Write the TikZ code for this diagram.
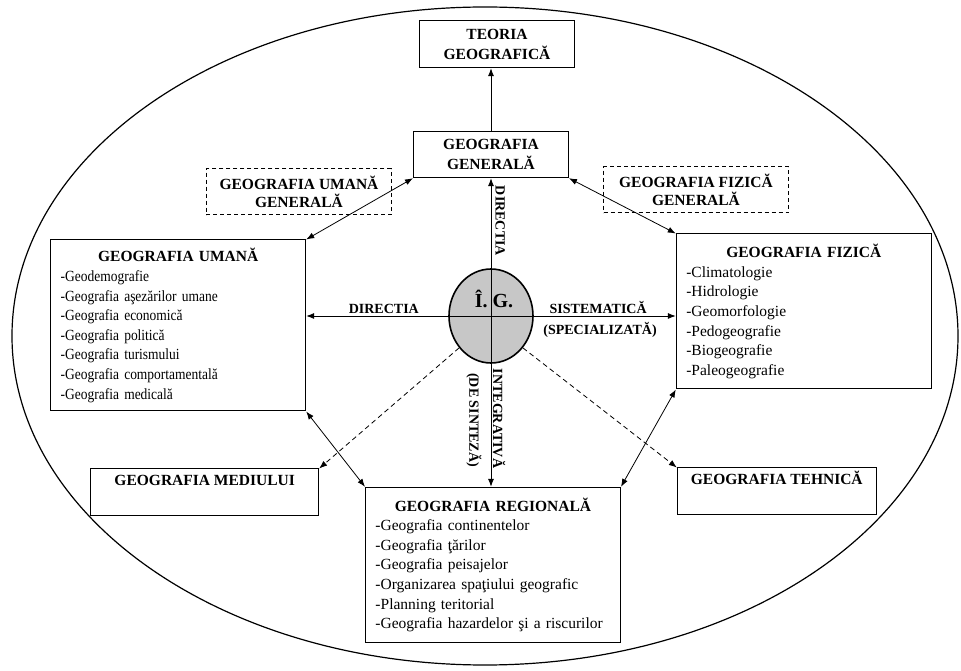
\documentclass[tikz,border=0pt]{standalone}
\usepackage{fontspec}
\setmainfont{Liberation Serif}
\newfontfamily\narrowfont[FakeStretch=0.87]{Liberation Serif}
\usetikzlibrary{positioning,arrows.meta,shapes.geometric}
\newcommand\boxtitle[1]{\makebox[\linewidth]{\rmfamily\bfseries #1}}

\begin{document}
\begin{tikzpicture}[
  font=\fontsize{15.5}{19.6}\selectfont, >={Latex[length=8pt,width=6pt]},
  box/.style={draw, line width=1pt, align=center, inner sep=3pt,
    font=\fontsize{15.5}{19.6}\selectfont\bfseries},
  gbox/.style={box, dash pattern=on 4pt off 3pt, font=\fontsize{15.5}{18}\selectfont\bfseries},
  tbox/.style={box, text height=14pt, text depth=27pt},
  lbox/.style={draw, line width=1pt, align=left, inner xsep=10pt, text width=235pt},
  ig/.style={ellipse, draw, line width=1.6pt, fill=black!22, minimum width=84pt,
    minimum height=94pt, inner sep=0pt},
  igtext/.style={font=\fontsize{20}{22}\selectfont\bfseries, inner sep=0pt},
  lbl/.style={font=\fontsize{14}{16}\selectfont\bfseries, inner sep=1.5pt},
  flow/.style={->, line width=0.8pt},
  both/.style={<->, line width=0.8pt},
  hint/.style={->, line width=0.8pt, dash pattern=on 5pt off 3.5pt},
  frame/.style={line width=1.2pt},
]
\useasboundingbox (-491pt,-355pt) rectangle (470pt,316pt);
% ---- centre ----
\node[ig] (ig) at (0,0) {};
\node[igtext] (igtxt) at ([xshift=3pt,yshift=17pt]ig.center) {Î.~G.};
% ---- general level (top) ----
\node[box, minimum width=155pt, minimum height=46pt, above=90pt of ig] (gen) {GEOGRAFIA\\GENERALĂ};
\node[box, minimum width=155pt, minimum height=47pt, above=63pt of gen, xshift=6pt] (teoria)
  {TEORIA\\GEOGRAFICĂ};
\node[gbox, minimum width=185pt, minimum height=46pt, left=21pt of gen, yshift=-37pt] (umgen)
  {GEOGRAFIA UMANĂ\\GENERALĂ};
\node[gbox, minimum width=185pt, minimum height=46pt, right=34pt of gen, yshift=-35pt] (fizgen)
  {GEOGRAFIA FIZICĂ\\GENERALĂ};
% ---- branches ----
\node[lbox, font=\fontsize{15.5}{19.6}\narrowfont, minimum height=171pt, left=142pt of ig,
  yshift=-9.5pt] (um)
  {\boxtitle{GEOGRAFIA UMANĂ}\\
   -Geodemografie\\
   -Geografia aşezărilor umane\\
   -Geografia economică\\
   -Geografia politică\\
   -Geografia turismului\\
   -Geografia comportamentală\\
   -Geografia medicală};
\node[lbox, minimum height=155pt, right=142pt of ig, yshift=4.5pt] (fiz)
  {\boxtitle{GEOGRAFIA FIZICĂ}\\
   -Climatologie\\
   -Hidrologie\\
   -Geomorfologie\\
   -Pedogeografie\\
   -Biogeografie\\
   -Paleogeografie};
\node[lbox, minimum height=155pt, below=123pt of ig, xshift=2pt] (reg)
  {\boxtitle{GEOGRAFIA REGIONALĂ}\\
   -Geografia continentelor\\
   -Geografia ţărilor\\
   -Geografia peisajelor\\
   -Organizarea spaţiului geografic\\
   -Planning teritorial\\
   -Geografia hazardelor şi a riscurilor};
\node[tbox, minimum width=228pt, below=57pt of um, xshift=26.5pt] (med) {GEOGRAFIA MEDIULUI};
\node[tbox, minimum width=199pt, below=78pt of fiz, xshift=-27pt] (teh) {GEOGRAFIA TEHNICĂ};
% ---- directions ----
\draw[flow] (gen.north) -- (gen.north |- teoria.south);
\draw[flow] (ig.center) -- (gen.south)
  node[pos=.69, rotate=-90, anchor=south, lbl, inner sep=4pt] {DIRECTIA};
\draw[flow] (ig.center) -- (ig.center |- reg.north)
  node[pos=.60, rotate=-90, anchor=south, lbl] {INTEGRATIVĂ}
  node[pos=.61, rotate=-90, anchor=north, lbl, inner sep=9pt] {(DE SINTEZĂ)};
\draw[flow] (ig.center) -- (ig.center -| um.east) node[pos=.58, above, lbl] {DIRECTIA};
\draw[flow] (ig.center) -- (ig.center -| fiz.west)
  node[pos=.58, above, lbl] {SISTEMATICĂ}
  node[pos=.59, below=4pt, lbl] {(SPECIALIZATĂ)};
% ---- links between branches ----
\draw[both] (gen.south west) -- (um.north east);
\draw[both] (gen.south east) -- (fiz.north west);
\draw[both] (um.south east) -- (reg.north west);
\draw[both] (fiz.south west) -- (reg.north east);
\draw[hint] (ig.225) -- (med.north east);
\draw[hint] (ig.-45) -- (teh.north west);
% ---- frame ----
\draw[frame] ([xshift=-6pt,yshift=-20pt]ig.center) ellipse [x radius=473pt, y radius=329pt];
\end{tikzpicture}
\end{document}
